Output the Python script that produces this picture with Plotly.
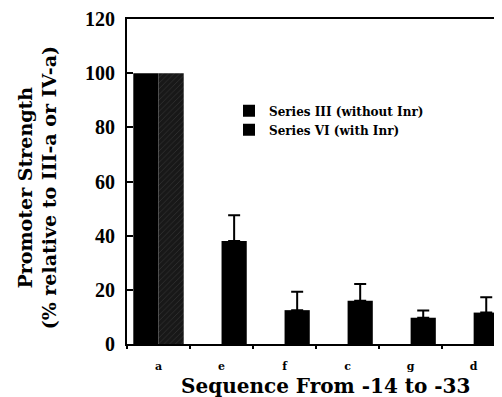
import plotly.graph_objects as go

categories = ["a", "e", "f", "c", "g", "d"]
series_iii = [100, None, None, None, None, None]
series_vi = [100, 38, 12.5, 16, 9.7, 11.6]
series_vi_err = [None, 9.5, 6.8, 6.2, 2.7, 5.7]
y_ticks = [0, 20, 40, 60, 80, 100, 120]

SERIF = "Liberation Serif, Times New Roman, serif"
WIDE = "DejaVu Serif, serif"

fig = go.Figure()
fig.add_trace(go.Bar(
    x=categories, y=series_iii, name="Series III (without Inr)",
    marker=dict(color="black", line=dict(width=0)),
    offset=-0.4, width=0.4,
))
fig.add_trace(go.Bar(
    x=categories[1:], y=series_vi[1:], name="Series VI (with Inr)",
    marker=dict(color="black", line=dict(width=0)),
    offset=0.0, width=0.4,
    error_y=dict(type="data", array=series_vi_err[1:], arrayminus=[0]*5,
                 symmetric=False, color="black", thickness=2, width=6),
))
# hatched Series VI bar at "a"
fig.add_trace(go.Bar(
    x=categories[:1], y=series_vi[:1], showlegend=False,
    marker=dict(color="#181818", line=dict(width=0),
                pattern=dict(shape="/", fgcolor="#4a4a4a", size=4, solidity=0.2)),
    offset=0.0, width=0.4,
))

fig.update_layout(
    width=494, height=389,
    margin=dict(l=119, r=0, t=6, b=53),
    paper_bgcolor="white", plot_bgcolor="white",
    barmode="overlay",
    showlegend=True,
    legend=dict(x=0.272, y=0.762, xanchor="left", yanchor="top",
                bgcolor="rgba(0,0,0,0)", traceorder="normal",
                font=dict(family=WIDE, size=12, color="black", weight="bold"),
                tracegroupgap=0, itemwidth=30),
    font=dict(family=SERIF, color="black"),
    annotations=[
        dict(text="<b>Promoter Strength</b><br><b>(% relative to III-a or IV-a)</b>",
             xref="paper", yref="paper", x=-0.24, y=0.479, textangle=-90,
             showarrow=False, font=dict(family=WIDE, size=19, color="black"),
             xanchor="center", yanchor="middle"),
        dict(text="<b>Sequence From -14 to -33</b>",
             xref="paper", yref="paper", x=0.528, y=-0.13,
             showarrow=False, font=dict(family=WIDE, size=20, color="black"),
             xanchor="center", yanchor="middle"),
    ],
)
fig.update_xaxes(
    type="category", categoryorder="array", categoryarray=categories,
    range=[-0.5, 5.45],
    showline=True, linecolor="black", linewidth=2, mirror=True,
    ticks="outside", tickson="boundaries", ticklen=3, tickwidth=2, tickcolor="black",
    tickfont=dict(family=WIDE, size=11, color="black", weight="bold"),
    ticklabelstandoff=11,
    showgrid=False, zeroline=False,
)
fig.update_yaxes(
    range=[0, 120], tickvals=y_ticks,
    showline=True, linecolor="black", linewidth=2,
    ticks="inside", ticklen=6, tickwidth=2, tickcolor="black",
    tickfont=dict(family=SERIF, size=20, color="black", weight="bold"),
    ticklabelstandoff=6, ticklabeloverflow="allow",
    showgrid=False, zeroline=False,
)

fig.write_html("out.html")
